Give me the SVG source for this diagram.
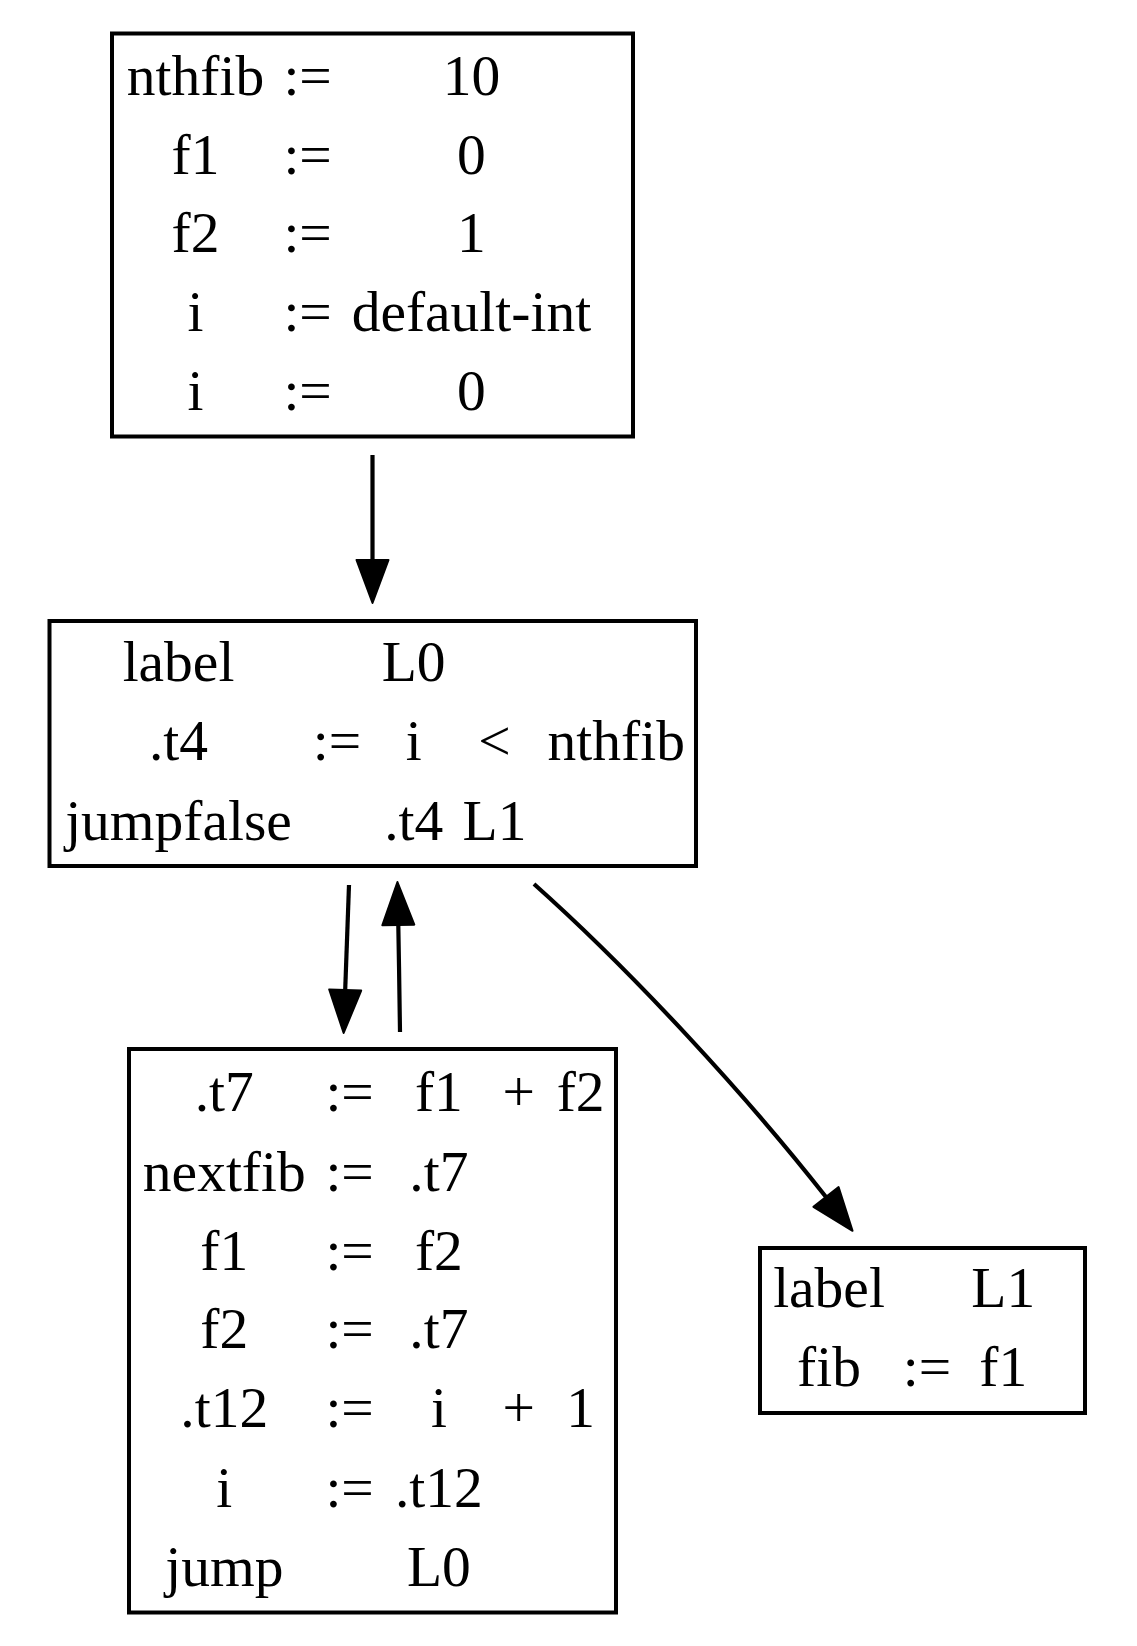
<svg xmlns="http://www.w3.org/2000/svg" width="1137" height="1646" viewBox="0 0 1137 1646">
<style>
.box{fill:#fff;stroke:#000;stroke-width:4}
text{font-family:"Liberation Serif","Times New Roman",serif;font-size:57.5px;fill:#000;text-anchor:middle}
.edge{fill:none;stroke:#000;stroke-width:4.2}
</style>
<defs>
<marker id="ah" markerUnits="userSpaceOnUse" markerWidth="46" markerHeight="36" viewBox="0 0 46 36" refX="0" refY="18" orient="auto" overflow="visible">
<path d="M0,2 L43,18 L0,34 Z" fill="#000" stroke="#000" stroke-width="2" stroke-linejoin="round"/>
</marker>
</defs>
<rect width="1137" height="1646" fill="#fff"/>
<g id="edges">
<path class="edge" d="M372.5,455 L372.5,560" marker-end="url(#ah)"/>
<path class="edge" d="M349,885 L345.2,990" marker-end="url(#ah)"/>
<path class="edge" d="M400,1032 C399.5,1000 399,960 398.3,925" marker-end="url(#ah)"/>
<path class="edge" d="M534,884 C631.5,971 745.4,1094.3 826,1197" marker-end="url(#ah)"/>
</g>
<g id="n0">
<rect class="box" x="112" y="33.5" width="521" height="403"/>
<text x="195.5" y="94.5">nthfib</text><text x="307.6" y="94.5">:=</text><text x="471.4" y="94.5">10</text>
<text x="195.5" y="173.5">f1</text><text x="307.6" y="173.5">:=</text><text x="471.4" y="173.5">0</text>
<text x="195.5" y="252">f2</text><text x="307.6" y="252">:=</text><text x="471.4" y="252">1</text>
<text x="195.5" y="331">i</text><text x="307.6" y="331">:=</text><text x="471.4" y="331">default-int</text>
<text x="195.5" y="410">i</text><text x="307.6" y="410">:=</text><text x="471.4" y="410">0</text>
</g>
<g id="n1">
<rect class="box" x="49.5" y="621" width="646.5" height="245"/>
<text x="178.5" y="681">label</text><text x="413.7" y="681">L0</text>
<text x="178.5" y="760">.t4</text><text x="337" y="760">:=</text><text x="413.7" y="760">i</text><text x="494.5" y="760">&lt;</text><text x="616.3" y="760">nthfib</text>
<text x="178.5" y="840">jumpfalse</text><text x="413.7" y="840">.t4</text><text x="494.5" y="840">L1</text>
</g>
<g id="n2">
<rect class="box" x="129" y="1049" width="487" height="563.5"/>
<text x="224.3" y="1111">.t7</text><text x="349.6" y="1111">:=</text><text x="438.9" y="1111">f1</text><text x="518.7" y="1111">+</text><text x="580.6" y="1111">f2</text>
<text x="224.3" y="1190.5">nextfib</text><text x="349.6" y="1190.5">:=</text><text x="438.9" y="1190.5">.t7</text>
<text x="224.3" y="1269.5">f1</text><text x="349.6" y="1269.5">:=</text><text x="438.9" y="1269.5">f2</text>
<text x="224.3" y="1348">f2</text><text x="349.6" y="1348">:=</text><text x="438.9" y="1348">.t7</text>
<text x="224.3" y="1427">.t12</text><text x="349.6" y="1427">:=</text><text x="438.9" y="1427">i</text><text x="518.7" y="1427">+</text><text x="580.6" y="1427">1</text>
<text x="224.3" y="1506.5">i</text><text x="349.6" y="1506.5">:=</text><text x="438.9" y="1506.5">.t12</text>
<text x="224.3" y="1585.5">jump</text><text x="438.9" y="1585.5">L0</text>
</g>
<g id="n3">
<rect class="box" x="760" y="1248" width="325" height="165"/>
<text x="829" y="1307">label</text><text x="1003.3" y="1307">L1</text>
<text x="829" y="1386">fib</text><text x="927" y="1386">:=</text><text x="1003.3" y="1386">f1</text>
</g>
</svg>
